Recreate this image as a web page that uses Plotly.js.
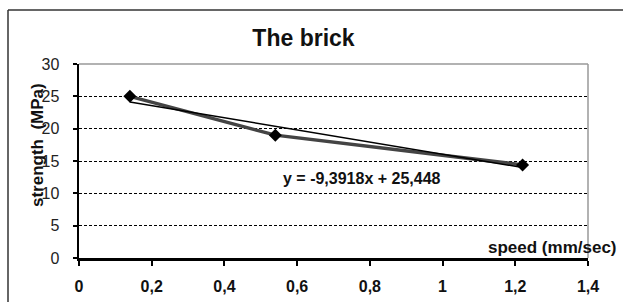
<!DOCTYPE html>
<html>
<head>
<meta charset="utf-8">
<script src="https://cdn.plot.ly/plotly-3.0.1.min.js"></script>
<style>html,body{margin:0;padding:0;background:#fff;}#chart{width:623px;height:302px;}</style>
</head>
<body>
<div id="chart"></div>
<script>
// Data
const speed = [0.14, 0.54, 1.22];          // mm/sec
const strength = [25.0, 19.0, 14.4];        // MPa
const trendSlope = -9.3918;
const trendIntercept = 25.448;
const trendLabel = "y = -9,3918x + 25,448";
const xTickVals = [0, 0.2, 0.4, 0.6, 0.8, 1, 1.2, 1.4];
const yTickVals = [0, 5, 10, 15, 20, 25, 30];

const W = 623, H = 302;
const L = 79, R = 588, T = 64, B = 258;
const px2x = p => (p - L) / (R - L);
const px2y = p => (B - p) / (B - T);

const trendX = [Math.min(...speed), Math.max(...speed)];
const trendY = trendX.map(x => trendSlope * x + trendIntercept);

const FONT = "Liberation Sans, Arial, sans-serif";

const traces = [
  {
    x: speed, y: strength, type: 'scatter', mode: 'lines+markers',
    line: {color: '#444', width: 3.5},
    marker: {symbol: 'diamond', size: 10, color: '#000'},
    showlegend: false, hoverinfo: 'skip'
  },
  {
    x: trendX, y: trendY, type: 'scatter', mode: 'lines',
    line: {color: '#000', width: 1.5},
    showlegend: false, hoverinfo: 'skip'
  }
];

const layout = {
  width: W, height: H,
  margin: {l: L, r: W - R, t: T, b: H - B, pad: 0},
  paper_bgcolor: '#fff', plot_bgcolor: '#fff',
  separators: ', ',
  font: {family: FONT, color: '#111'},
  title: {
    text: 'The brick',
    font: {family: FONT, size: 23, weight: 'bold', color: '#111'},
    xref: 'container', yref: 'container',
    x: 303.5 / W, y: 1 - 38 / H, xanchor: 'center', yanchor: 'middle'
  },
  xaxis: {
    range: [0, 1.4], tickvals: xTickVals, ticktext: xTickVals.map(v => String(v).replace('.', ',')),
    ticks: 'outside', ticklen: 5, tickwidth: 2, tickcolor: '#000',
    showline: true, linecolor: '#000', linewidth: 2.5,
    showgrid: false, zeroline: false,
    tickfont: {family: FONT, size: 16, weight: 'bold', color: '#111'},
    ticklabelstandoff: 7, fixedrange: true
  },
  yaxis: {
    range: [0, 30], tickvals: yTickVals,
    ticks: 'outside', ticklen: 4, tickwidth: 2, tickcolor: '#000',
    showline: true, linecolor: '#000', linewidth: 2.5,
    showgrid: true, gridcolor: '#000', gridwidth: 1, griddash: '3px,2px',
    zeroline: false,
    tickfont: {family: FONT, size: 16, color: '#222'},
    ticklabelstandoff: 10, fixedrange: true
  },
  shapes: [
    {type: 'line', xref: 'paper', yref: 'paper', x0: 0, x1: 1, y0: 1, y1: 1,
     line: {color: '#999', width: 1.5}, layer: 'above'},
    {type: 'line', xref: 'paper', yref: 'paper', x0: 1, x1: 1, y0: 0, y1: 1,
     line: {color: '#999', width: 1.5}, layer: 'above'},
    {type: 'line', xref: 'paper', yref: 'paper', x0: px2x(8), x1: px2x(630), y0: px2y(10), y1: px2y(10),
     line: {color: '#333', width: 1.5}, layer: 'above'},
    {type: 'line', xref: 'paper', yref: 'paper', x0: px2x(8), x1: px2x(8), y0: px2y(10), y1: px2y(310),
     line: {color: '#333', width: 1.5}, layer: 'above'}
  ],
  annotations: [
    {text: trendLabel, xref: 'paper', yref: 'paper', x: px2x(361.5), y: px2y(178),
     xanchor: 'center', yanchor: 'middle', showarrow: false,
     font: {family: FONT, size: 16, weight: 'bold', color: '#111'}},
    {text: 'speed (mm/sec)', xref: 'paper', yref: 'paper', x: px2x(619), y: px2y(247),
     xanchor: 'right', yanchor: 'middle', showarrow: false,
     font: {family: FONT, size: 17, weight: 'bold', color: '#111'}},
    {text: 'strength  (MPa)', xref: 'paper', yref: 'paper', x: px2x(37), y: px2y(145),
     xanchor: 'center', yanchor: 'middle', textangle: -90, showarrow: false,
     font: {family: FONT, size: 17, weight: 'bold', color: '#111'}}
  ]
};

Plotly.newPlot('chart', traces, layout, {staticPlot: true, displayModeBar: false});
</script>
</body>
</html>
